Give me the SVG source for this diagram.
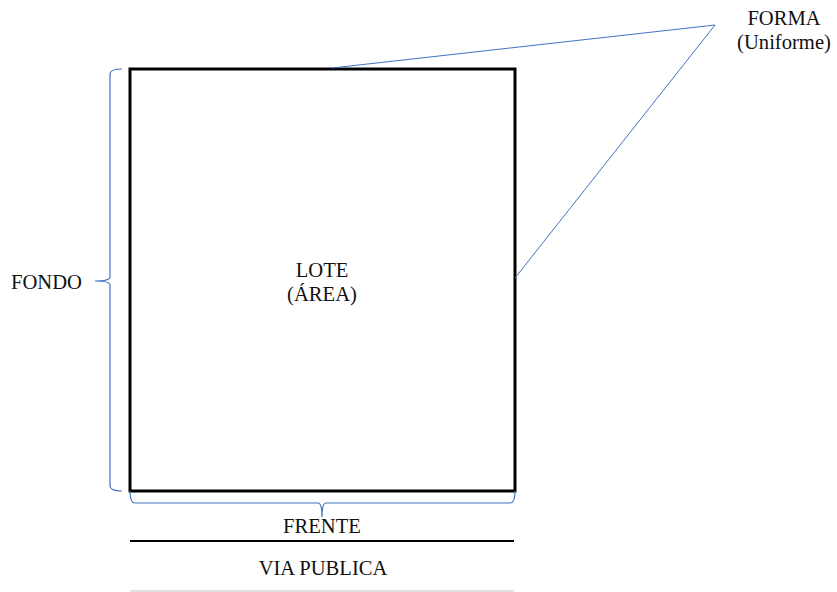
<svg xmlns="http://www.w3.org/2000/svg" width="837" height="592" viewBox="0 0 837 592">
  <style>
    .lbl { font-family: "Liberation Serif", "DejaVu Serif", "Times New Roman", serif; font-size: 20.6px; fill: #111; text-anchor: middle; }
    .lblL { font-family: "Liberation Serif", "DejaVu Serif", "Times New Roman", serif; font-size: 20.6px; fill: #111; }
    .brace { fill: none; stroke: #4472C4; stroke-width: 1.2; }
    .call { fill: none; stroke: #4472C4; stroke-width: 1; }
  </style>
  <rect width="837" height="592" fill="#ffffff"/>

  <!-- lot -->
  <g id="lote">
    <rect x="130" y="69" width="385" height="422" fill="none" stroke="#000" stroke-width="3"/>
    <text class="lbl" x="322" y="277">LOTE</text>
    <text class="lbl" x="322" y="301">(ÁREA)</text>
  </g>

  <!-- street -->
  <g id="via-publica">
    <line x1="130" y1="541" x2="514" y2="541" stroke="#000" stroke-width="2"/>
    <text class="lbl" x="323" y="575">VIA PUBLICA</text>
    <line x1="130" y1="591" x2="514" y2="591" stroke="#d9d9d9" stroke-width="1.5"/>
  </g>

  <g id="fondo">
    <text class="lblL" x="11" y="289">FONDO</text>
  </g>

  <g id="frente">
    <text class="lbl" x="322" y="533">FRENTE</text>
  </g>

  <g id="forma">
    <text class="lbl" x="784" y="25">FORMA</text>
    <text class="lbl" x="784" y="49">(Uniforme)</text>
  </g>

  <!-- braces and callout lines -->
  <g id="connectors">
    <path class="brace" d="M122,69 Q110,69 110,74 L110,277 Q110,281 95,281 Q110,281 110,285 L110,486 Q110,491 122,491"/>
    <path class="brace" d="M130,491 Q130,503 135,503 L318,503 Q322,503 322,517 Q322,503 326,503 L510,503 Q515,503 515,491"/>
    <polyline class="call" points="332,68 715,25 515,278"/>
  </g>
</svg>
